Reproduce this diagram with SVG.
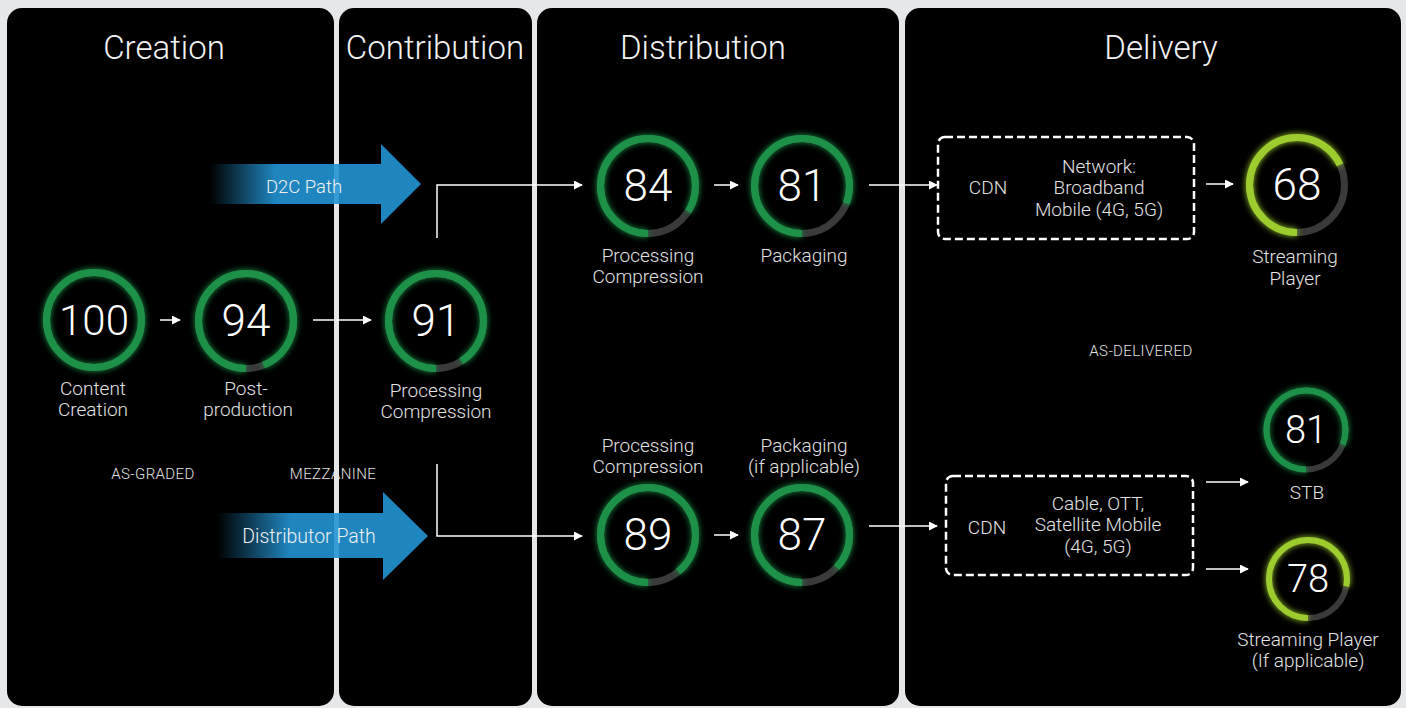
<svg xmlns="http://www.w3.org/2000/svg" width="1406" height="708" viewBox="0 0 1406 708">
<defs>
<style>
text{font-family:"Roboto","Open Sans","Liberation Sans",sans-serif;font-weight:300;text-anchor:middle;}
.title{font-size:33px;fill:#f2f2f2;}
.num{font-size:44px;fill:#ffffff;}
.nums{font-size:38px;fill:#ffffff;}
.lbl{font-size:19px;fill:#e2e2e2;}
.tag{font-size:15px;fill:#e2e2e2;letter-spacing:0.4px;}
.path{font-size:18.5px;fill:#f0f0f0;}
.panel{fill:#000;}
.track{fill:none;stroke:#3a3a3a;}
.arc{fill:none;stroke:#1f9147;}
.arcY{fill:none;stroke:#9ccc2e;}
.conn{fill:none;stroke:#ffffff;stroke-width:1.5;}
.cdn{fill:none;stroke:#ffffff;stroke-width:2.5;stroke-dasharray:8 4;}
</style>
<marker id="ah" viewBox="0 0 10 10" refX="9" refY="5" markerWidth="9" markerHeight="9" markerUnits="userSpaceOnUse" orient="auto">
<path d="M0,0 L10,5 L0,10 Z" fill="#ffffff"/>
</marker>
<filter id="glow" x="-30%" y="-30%" width="160%" height="160%">
<feGaussianBlur stdDeviation="3" result="b"/>
<feMerge><feMergeNode in="b"/><feMergeNode in="SourceGraphic"/></feMerge>
</filter>
<linearGradient id="gD2C" gradientUnits="userSpaceOnUse" x1="210" y1="0" x2="275" y2="0">
<stop offset="0" stop-color="#2394d4" stop-opacity="0"/>
<stop offset="1" stop-color="#2394d4" stop-opacity="0.9"/>
</linearGradient>
<linearGradient id="gDist" gradientUnits="userSpaceOnUse" x1="217" y1="0" x2="290" y2="0">
<stop offset="0" stop-color="#2394d4" stop-opacity="0"/>
<stop offset="1" stop-color="#2394d4" stop-opacity="0.9"/>
</linearGradient>
</defs>
<rect width="1406" height="708" fill="#e6e7e9"/>

<g id="panels">
<rect class="panel" x="7" y="8" width="327" height="698" rx="15"/>
<rect class="panel" x="339" y="8" width="193" height="698" rx="15"/>
<rect class="panel" x="537" y="8" width="362" height="698" rx="15"/>
<rect class="panel" x="905" y="8" width="496" height="698" rx="15"/>
<text class="title" x="164" y="59">Creation</text>
<text class="title" x="435" y="59">Contribution</text>
<text class="title" x="703" y="59">Distribution</text>
<text class="title" x="1161" y="59">Delivery</text>
</g>

<g id="path-arrows">
<g id="d2c-path">
<polygon points="210,164 381,164 381,144 421,184 381,224 381,204 210,204" fill="url(#gD2C)"/>
<text class="path" x="304" y="193">D2C Path</text>
</g>
<g id="distributor-path">
<polygon points="217,513 383,513 383,492 428,536 383,580 383,558 217,558" fill="url(#gDist)"/>
<text class="path" x="309" y="543" style="font-size:19.5px">Distributor Path</text>
</g>
</g>

<g id="connectors">
<line class="conn" x1="160" y1="320" x2="180" y2="320" marker-end="url(#ah)"/>
<line class="conn" x1="313" y1="320" x2="371" y2="320" marker-end="url(#ah)"/>
<polyline class="conn" points="437,238 437,185 582,185" marker-end="url(#ah)"/>
<polyline class="conn" points="437,464 437,536 582,536" marker-end="url(#ah)"/>
<line class="conn" x1="714" y1="185" x2="738" y2="185" marker-end="url(#ah)"/>
<line class="conn" x1="714" y1="535" x2="738" y2="535" marker-end="url(#ah)"/>
<line class="conn" x1="869" y1="185" x2="937" y2="185" marker-end="url(#ah)"/>
<line class="conn" x1="869" y1="526" x2="937" y2="526" marker-end="url(#ah)"/>
<line class="conn" x1="1206" y1="184" x2="1233" y2="184" marker-end="url(#ah)"/>
<line class="conn" x1="1206" y1="482" x2="1248" y2="482" marker-end="url(#ah)"/>
<line class="conn" x1="1206" y1="569" x2="1248" y2="569" marker-end="url(#ah)"/>
</g>

<g id="content-creation">
<circle class="track" cx="94" cy="320" r="47.5" stroke-width="7"/>
<circle class="arc" cx="94" cy="320" r="47.5" stroke-width="7" pathLength="100" stroke-dasharray="100 0" transform="rotate(90 94 320)" filter="url(#glow)"/>
<text class="num" x="94" y="335" style="font-size:42px">100</text>
<text class="lbl" x="93" y="395">Content</text>
<text class="lbl" x="93" y="416">Creation</text>
</g>

<g id="post-production">
<circle class="track" cx="246" cy="321" r="47.5" stroke-width="7"/>
<circle class="arc" cx="246" cy="321" r="47.5" stroke-width="7" pathLength="100" stroke-dasharray="94 100" transform="rotate(90 246 321)" filter="url(#glow)"/>
<text class="num" x="246" y="336">94</text>
<text class="lbl" x="246" y="395">Post-</text>
<text class="lbl" x="248" y="416">production</text>
</g>

<g id="contribution-processing">
<circle class="track" cx="436" cy="321" r="47.5" stroke-width="7"/>
<circle class="arc" cx="436" cy="321" r="47.5" stroke-width="7" pathLength="100" stroke-dasharray="91 100" transform="rotate(90 436 321)" filter="url(#glow)"/>
<text class="num" x="436" y="336">91</text>
<text class="lbl" x="436" y="397">Processing</text>
<text class="lbl" x="436" y="418">Compression</text>
</g>

<g id="tags">
<text class="tag" x="153" y="479">AS-GRADED</text>
<text class="tag" x="333" y="479">MEZZANINE</text>
<text class="tag" x="1141" y="356">AS-DELIVERED</text>
</g>

<g id="d2c-processing">
<circle class="track" cx="648" cy="186" r="47.5" stroke-width="7"/>
<circle class="arc" cx="648" cy="186" r="47.5" stroke-width="7" pathLength="100" stroke-dasharray="84 100" transform="rotate(90 648 186)" filter="url(#glow)"/>
<text class="num" x="648" y="201">84</text>
<text class="lbl" x="648" y="262">Processing</text>
<text class="lbl" x="648" y="283">Compression</text>
</g>

<g id="d2c-packaging">
<circle class="track" cx="802" cy="186" r="47.5" stroke-width="7"/>
<circle class="arc" cx="802" cy="186" r="47.5" stroke-width="7" pathLength="100" stroke-dasharray="81 100" transform="rotate(90 802 186)" filter="url(#glow)"/>
<text class="num" x="802" y="201">81</text>
<text class="lbl" x="804" y="262">Packaging</text>
</g>

<g id="dist-processing">
<circle class="track" cx="648" cy="535" r="47.5" stroke-width="7"/>
<circle class="arc" cx="648" cy="535" r="47.5" stroke-width="7" pathLength="100" stroke-dasharray="89 100" transform="rotate(90 648 535)" filter="url(#glow)"/>
<text class="num" x="648" y="550">89</text>
<text class="lbl" x="648" y="452">Processing</text>
<text class="lbl" x="648" y="473">Compression</text>
</g>

<g id="dist-packaging">
<circle class="track" cx="802" cy="535" r="47.5" stroke-width="7"/>
<circle class="arc" cx="802" cy="535" r="47.5" stroke-width="7" pathLength="100" stroke-dasharray="87 100" transform="rotate(90 802 535)" filter="url(#glow)"/>
<text class="num" x="802" y="550">87</text>
<text class="lbl" x="804" y="452">Packaging</text>
<text class="lbl" x="804" y="473">(if applicable)</text>
</g>

<g id="cdn-network">
<rect class="cdn" x="938" y="137" width="256" height="102" rx="7"/>
<text class="lbl" x="988" y="194">CDN</text>
<text class="lbl" x="1099" y="173">Network:</text>
<text class="lbl" x="1099" y="194">Broadband</text>
<text class="lbl" x="1099" y="216">Mobile (4G, 5G)</text>
</g>

<g id="d2c-streaming-player">
<circle class="track" cx="1297" cy="185" r="47.5" stroke-width="7"/>
<circle class="arcY" cx="1297" cy="185" r="47.5" stroke-width="7" pathLength="100" stroke-dasharray="68 100" transform="rotate(90 1297 185)" filter="url(#glow)"/>
<text class="num" x="1297" y="200">68</text>
<text class="lbl" x="1295" y="263">Streaming</text>
<text class="lbl" x="1295" y="285">Player</text>
</g>

<g id="cdn-cable">
<rect class="cdn" x="946" y="476" width="247" height="99" rx="7"/>
<text class="lbl" x="987" y="534">CDN</text>
<text class="lbl" x="1098" y="510">Cable, OTT,</text>
<text class="lbl" x="1098" y="531">Satellite Mobile</text>
<text class="lbl" x="1098" y="553">(4G, 5G)</text>
</g>

<g id="stb">
<circle class="track" cx="1306" cy="430" r="39.5" stroke-width="6"/>
<circle class="arc" cx="1306" cy="430" r="39.5" stroke-width="6" pathLength="100" stroke-dasharray="81 100" transform="rotate(90 1306 430)" filter="url(#glow)"/>
<text class="nums" x="1306" y="443">81</text>
<text class="lbl" x="1307" y="499">STB</text>
</g>

<g id="dist-streaming-player">
<circle class="track" cx="1308" cy="579" r="39" stroke-width="6"/>
<circle class="arcY" cx="1308" cy="579" r="39" stroke-width="6" pathLength="100" stroke-dasharray="78 100" transform="rotate(90 1308 579)" filter="url(#glow)"/>
<text class="nums" x="1308" y="592">78</text>
<text class="lbl" x="1308" y="646">Streaming Player</text>
<text class="lbl" x="1308" y="667">(If applicable)</text>
</g>
</svg>
